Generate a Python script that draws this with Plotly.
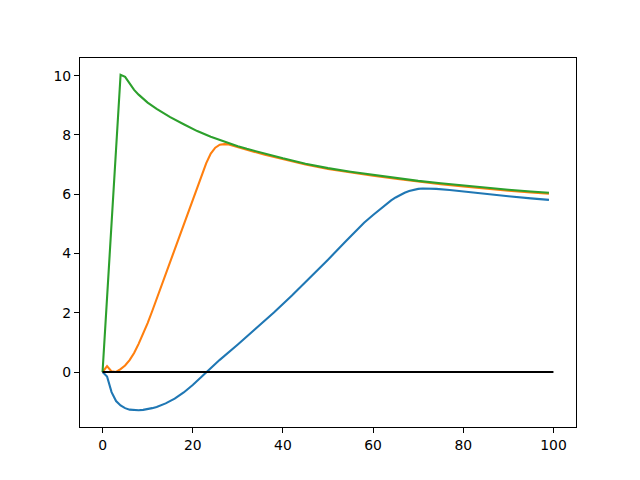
import plotly.graph_objects as go

# values
blue_x = [0, 1, 2, 3, 4, 5, 6, 7, 8, 9, 10, 11, 12, 14, 16, 18, 20, 22, 23, 24, 26, 30, 34, 38, 42, 46, 50, 54,
          56, 58, 60, 61, 62, 63, 64, 65, 66, 67, 68, 69, 70, 71, 72, 73, 74, 77, 80, 85, 90, 95, 99]
blue_y = [0, -0.15, -0.68, -0.98, -1.13, -1.22, -1.27, -1.29, -1.29, -1.278, -1.255, -1.22, -1.18, -1.06, -0.9,
          -0.69, -0.44, -0.15, 0.0, 0.14, 0.41, 0.93, 1.46, 2.01, 2.58, 3.18, 3.79, 4.42,
          4.74, 5.04, 5.3, 5.43, 5.56, 5.68, 5.79, 5.89, 5.98, 6.05, 6.11, 6.15, 6.18, 6.19, 6.19, 6.19, 6.18,
          6.14, 6.09, 6.0, 5.93, 5.86, 5.81]

orange_x = [0, 1, 2, 3, 4, 5, 6, 7, 8, 9, 10, 11, 12, 14, 16, 18, 20, 21, 22, 23, 24, 25, 26, 27, 28, 29, 30,
            32, 36, 40, 45, 50, 55, 60, 65, 70, 75, 80, 85, 90, 95, 99]
orange_y = [0, 0.2, 0.02, 0.0, 0.1, 0.22, 0.4, 0.64, 0.95, 1.28, 1.65, 2.05, 2.47, 3.32, 4.16, 4.99, 5.82, 6.24,
            6.66, 7.05, 7.37, 7.57, 7.67, 7.69, 7.68, 7.64, 7.59, 7.5, 7.33, 7.18, 7.0, 6.85, 6.73, 6.62, 6.52,
            6.42, 6.34, 6.26, 6.18, 6.12, 6.06, 6.02]

green_x = [0, 1, 2, 3, 4, 5, 6, 7, 8, 9, 10, 12, 15, 18, 21, 24, 26, 28, 30, 32, 36, 40, 45, 50, 55, 60, 65, 70,
           75, 80, 85, 90, 95, 99]
green_y = [0, 2.5, 5.0, 7.5, 10.03, 9.96, 9.72, 9.52, 9.36, 9.22, 9.09, 8.88, 8.6, 8.36, 8.13, 7.94, 7.83, 7.72,
           7.62, 7.53, 7.36, 7.21, 7.03, 6.88, 6.76, 6.65, 6.55, 6.45, 6.37, 6.29, 6.21, 6.15, 6.09, 6.05]

zero_x = [0, 100]
zero_y = [0, 0]

fig = go.Figure()
fig.add_trace(go.Scatter(x=blue_x, y=blue_y, mode="lines", line=dict(color="#1f77b4", width=2.1)))
fig.add_trace(go.Scatter(x=orange_x, y=orange_y, mode="lines", line=dict(color="#ff7f0e", width=2.1)))
fig.add_trace(go.Scatter(x=green_x, y=green_y, mode="lines", line=dict(color="#2ca02c", width=2.1)))
fig.add_trace(go.Scatter(x=zero_x, y=zero_y, mode="lines", line=dict(color="black", width=2.1)))

axis = dict(showgrid=False, zeroline=False, showline=True, linecolor="black", linewidth=1.1, mirror=True,
            ticks="outside", ticklen=5, tickwidth=1.1, tickcolor="black",
            tickfont=dict(family="DejaVu Sans", size=13.9, color="black"))

fig.update_xaxes(range=[-5, 105], tickvals=[0, 20, 40, 60, 80, 100], **axis)
fig.update_yaxes(range=[-1.856, 10.596], tickvals=[0, 2, 4, 6, 8, 10], **axis)

# page body adds 8px, so the figure is 624x464 with margins shifted to match
fig.update_layout(width=624, height=464, showlegend=False,
                  plot_bgcolor="white", paper_bgcolor="white",
                  margin=dict(l=72, r=56, t=50, b=45))

fig.write_html("out.html")
